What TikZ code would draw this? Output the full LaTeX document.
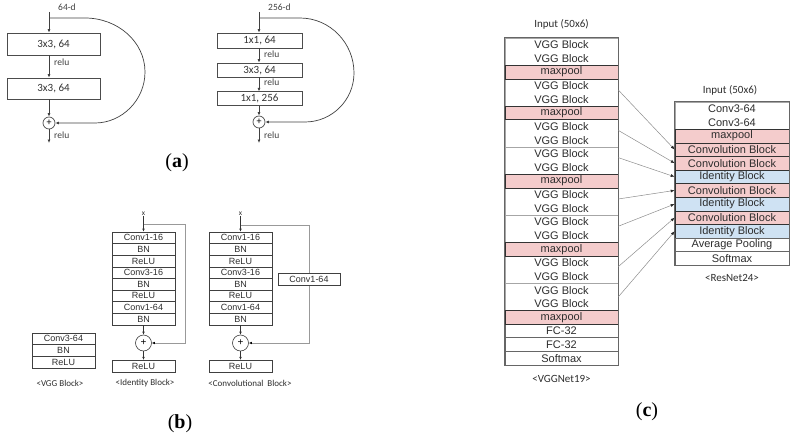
\documentclass[tikz,border=0pt]{standalone}
\usepackage{fontspec}
\setmainfont{Liberation Sans}
\newfontfamily\calfont{Carlito}
\newfontfamily\capfont{Liberation Serif}
\usetikzlibrary{arrows.meta}
\definecolor{pk}{RGB}{244,204,204}
\definecolor{bl}{RGB}{207,226,243}
\definecolor{tx}{RGB}{45,45,45}
\begin{document}
\begin{tikzpicture}[x=1pt,y=-1pt,
  abox/.style={draw=black!70, line width=0.7pt, inner sep=0pt, font=\calfont\fontsize{11}{12}\selectfont, text=black!80},
  alab/.style={font=\calfont\fontsize{9.5}{10}\selectfont, text=black!75, inner sep=0pt, anchor=west},
  aarr/.style={draw=black!75, line width=0.7pt, -{Latex[length=3.5pt,width=3pt]}},
  aplus/.style={circle, draw=black!70, line width=0.7pt, minimum size=12pt, inner sep=0pt, font=\calfont\fontsize{10}{10}\selectfont},
  capt/.style={font=\capfont\fontsize{20}{22}\selectfont, inner sep=0pt},
  brow/.style={draw=black!75, line width=0.6pt, minimum width=63pt, minimum height=11.6pt, inner sep=0pt, font=\fontsize{9}{9}\selectfont, text=tx},
  blab/.style={font=\calfont\fontsize{9}{9}\selectfont, text=tx, inner sep=0pt},
  barr/.style={draw=black!80, line width=0.5pt, -{Latex[length=3pt,width=2.5pt]}},
  bskip/.style={draw=black!40, line width=0.6pt, -{Latex[length=3pt,width=2.5pt,color=black]}},
  bplus/.style={circle, draw=black!75, line width=0.6pt, minimum size=16pt, inner sep=0pt, font=\fontsize{10}{10}\selectfont},
  crow/.style={minimum width=113pt, minimum height=13.625pt, inner sep=0pt, font=\fontsize{11}{13.6}\selectfont, text=tx, align=center, line width=0.6pt},
  vgrp/.style={crow, minimum height=27.25pt, fill=white, draw=black!35},
  pkrow/.style={crow, fill=pk, draw=black!80},
  blrow/.style={crow, fill=bl, draw=black!80},
  wrow/.style={crow, fill=white, draw=black!60},
  clab/.style={font=\calfont\fontsize{11}{12}\selectfont, text=tx, inner sep=0pt},
  carr/.style={draw=black!45, line width=0.5pt, -{Latex[length=4pt,width=3pt,color=black!85]}}
]
\useasboundingbox (0,0) rectangle (796,444);

% ---------------- (a) left
\coordinate (la0) at (49,12);
\coordinate (lab) at (49,18);
\node[alab] (lad) at (58,7) {64-d};
\node[abox, minimum width=93pt, minimum height=22pt] (la1) at (53.5,44) {3x3, 64};
\node[abox, minimum width=93pt, minimum height=21pt] (la2) at (53.5,88.5) {3x3, 64};
\node[aplus] (lap) at (49,123) {+};
\coordinate (laout) at (49,143);
\node[alab] (lar1) at (54,62) {relu};
\node[alab] (lar2) at (54,135) {relu};
\draw[aarr] (la0) -- (la0 |- la1.north);
\draw[aarr] (la0 |- la1.south) -- (la0 |- la2.north);
\draw[aarr] (la0 |- la2.south) -- (lap.north);
\draw[aarr] (lap.south) -- (laout);
\draw[aarr] (lab) -- (85,18) .. controls (118,18) and (145,42) .. (145,72)
   .. controls (145,100) and (122,123) .. (95,123) -- (lap.east);

% ---------------- (a) right
\coordinate (ra0) at (259,12);
\coordinate (rab) at (259,18);
\node[alab] (rad) at (268,7) {256-d};
\node[abox, minimum width=85pt, minimum height=15pt] (ra1) at (259.5,40.5) {1x1, 64};
\node[abox, minimum width=85pt, minimum height=14pt] (ra2) at (259.5,70) {3x3, 64};
\node[abox, minimum width=85pt, minimum height=13.5pt] (ra3) at (259.5,98.5) {1x1, 256};
\node[aplus] (rap) at (259,122) {+};
\coordinate (raout) at (259,143);
\node[alab] (rar1) at (264,54) {relu};
\node[alab] (rar2) at (264,82) {relu};
\node[alab] (rar3) at (264,135) {relu};
\draw[aarr] (ra0) -- (ra0 |- ra1.north);
\draw[aarr] (ra0 |- ra1.south) -- (ra0 |- ra2.north);
\draw[aarr] (ra0 |- ra2.south) -- (ra0 |- ra3.north);
\draw[aarr] (ra0 |- ra3.south) -- (rap.north);
\draw[aarr] (rap.south) -- (raout);
\draw[aarr] (rab) -- (300,18) .. controls (330,18) and (354,43) .. (354,73)
   .. controls (354,100) and (332,122) .. (305,122) -- (rap.east);

\node[capt] (capa) at (177,163) {(\textbf{a})};

% ---------------- (b) VGG block
\node[brow] (v1) at (63.5,338.85) {Conv3-64};
\node[brow] (v2) at (63.5,350.55) {BN};
\node[brow] (v3) at (63.5,362.25) {ReLU};
\node[blab] (vlab) at (60,383) {<VGG Block>};

% ---------------- (b) identity block
\foreach \k/\t in {1/Conv1-16,2/BN,3/ReLU,4/Conv3-16,5/BN,6/ReLU,7/Conv1-64,8/BN}
  \node[brow] (i\k) at (143.5,{232+11.6*(\k-0.5)}) {\t};
\node[blab, font=\calfont\fontsize{7.5}{8}\selectfont] (ix) at (143.5,214) {x};
\node[bplus] (ip) at (143.5,343) {+};
\node[brow] (ir) at (143.5,366) {ReLU};
\coordinate (ib) at (143.5,224);
\draw[barr] (ix.south) -- (i1.north);
\draw[barr] (i8.south) -- (ip.north);
\draw[barr] (ip.south) -- (ir.north);
\draw[bskip] (ib) -- (185,224) |- (ip.east);
\node[blab] (ilab) at (145,383) {<Identity Block>};

% ---------------- (b) convolutional block
\foreach \k/\t in {1/Conv1-16,2/BN,3/ReLU,4/Conv3-16,5/BN,6/ReLU,7/Conv1-64,8/BN}
  \node[brow] (c\k) at (240.5,{232+11.6*(\k-0.5)}) {\t};
\node[blab, font=\calfont\fontsize{7.5}{8}\selectfont] (cx) at (240.5,214) {x};
\node[bplus] (cp) at (240.5,343) {+};
\node[brow] (cr) at (240.5,366) {ReLU};
\coordinate (cb) at (240.5,225);
\draw[barr] (cx.south) -- (c1.north);
\draw[barr] (c8.south) -- (cp.north);
\draw[barr] (cp.south) -- (cr.north);
\draw[bskip] (cb) -- (309,225) |- (cp.east);
\node[brow, fill=white, minimum width=62pt] (cs) at (309,279.5) {Conv1-64};
\node[blab] (clab) at (250,383) {<Convolutional\ \ Block>};

\node[capt] (capb) at (180,424) {(\textbf{b})};

% ---------------- (c) VGGNet19
\node[clab] (vin) at (561.5,24) {Input (50x6)};
\node[vgrp] (g0) at (561.5,51.625) {VGG Block\\VGG Block};
\node[vgrp] (g1) at (561.5,92.5) {VGG Block\\VGG Block};
\node[vgrp] (g2) at (561.5,133.375) {VGG Block\\VGG Block};
\node[vgrp] (g3) at (561.5,160.625) {VGG Block\\VGG Block};
\node[vgrp] (g4) at (561.5,201.5) {VGG Block\\VGG Block};
\node[vgrp] (g5) at (561.5,228.75) {VGG Block\\VGG Block};
\node[vgrp] (g6) at (561.5,269.625) {VGG Block\\VGG Block};
\node[vgrp] (g7) at (561.5,296.875) {VGG Block\\VGG Block};
\node[wrow] (f1) at (561.5,330.94) {FC-32};
\node[wrow] (f2) at (561.5,344.56) {FC-32};
\node[wrow] (sm) at (561.5,358.19) {Softmax};
\node[pkrow] (m1) at (561.5,72.06) {maxpool};
\node[pkrow] (m2) at (561.5,112.94) {maxpool};
\node[pkrow] (m3) at (561.5,181.06) {maxpool};
\node[pkrow] (m4) at (561.5,249.19) {maxpool};
\node[pkrow] (m5) at (561.5,317.31) {maxpool};
\draw[black!60, line width=0.7pt] (g0.north west) rectangle (sm.south east);
\node[clab] (vname) at (561.5,379) {<VGGNet19>};

% ---------------- (c) ResNet24
\node[clab] (rin) at (730,90) {Input (50x6)};
\node[vgrp, minimum width=114pt, minimum height=27.2pt] (r01) at (732,115.6) {Conv3-64\\Conv3-64};
\node[pkrow, minimum width=114pt, minimum height=13.6pt] (r2) at (732,136) {maxpool};
\node[pkrow, minimum width=114pt, minimum height=13.6pt] (r3) at (732,149.6) {Convolution Block};
\node[pkrow, minimum width=114pt, minimum height=13.6pt] (r4) at (732,163.2) {Convolution Block};
\node[blrow, minimum width=114pt, minimum height=13.6pt] (r5) at (732,176.8) {Identity Block};
\node[pkrow, minimum width=114pt, minimum height=13.6pt] (r6) at (732,190.4) {Convolution Block};
\node[blrow, minimum width=114pt, minimum height=13.6pt] (r7) at (732,204) {Identity Block};
\node[pkrow, minimum width=114pt, minimum height=13.6pt] (r8) at (732,217.6) {Convolution Block};
\node[blrow, minimum width=114pt, minimum height=13.6pt] (r9) at (732,231.2) {Identity Block};
\node[wrow, minimum width=114pt, minimum height=13.6pt] (r10) at (732,244.8) {Average Pooling};
\node[wrow, minimum width=114pt, minimum height=13.6pt] (r11) at (732,258.4) {Softmax};
\draw[black!60, line width=0.7pt] (r01.north west) rectangle (r11.south east);
\node[clab] (rname) at (732,278) {<ResNet24>};

\draw[carr] ([yshift=2.5pt]g1.east) -- (r3.west);
\draw[carr] ([yshift=3pt]g2.east) -- (r4.west);
\draw[carr] ([yshift=3pt]g3.east) -- (r5.west);
\draw[carr] ([yshift=2.5pt]g4.east) -- (r6.west);
\draw[carr] ([yshift=2.5pt]g5.east) -- (r7.west);
\draw[carr] ([yshift=3pt]g6.east) -- (r8.west);
\draw[carr] (g7.east) -- (r9.west);

\node[capt] (capc) at (647,412) {(\textbf{c})};
\end{tikzpicture}
\end{document}
